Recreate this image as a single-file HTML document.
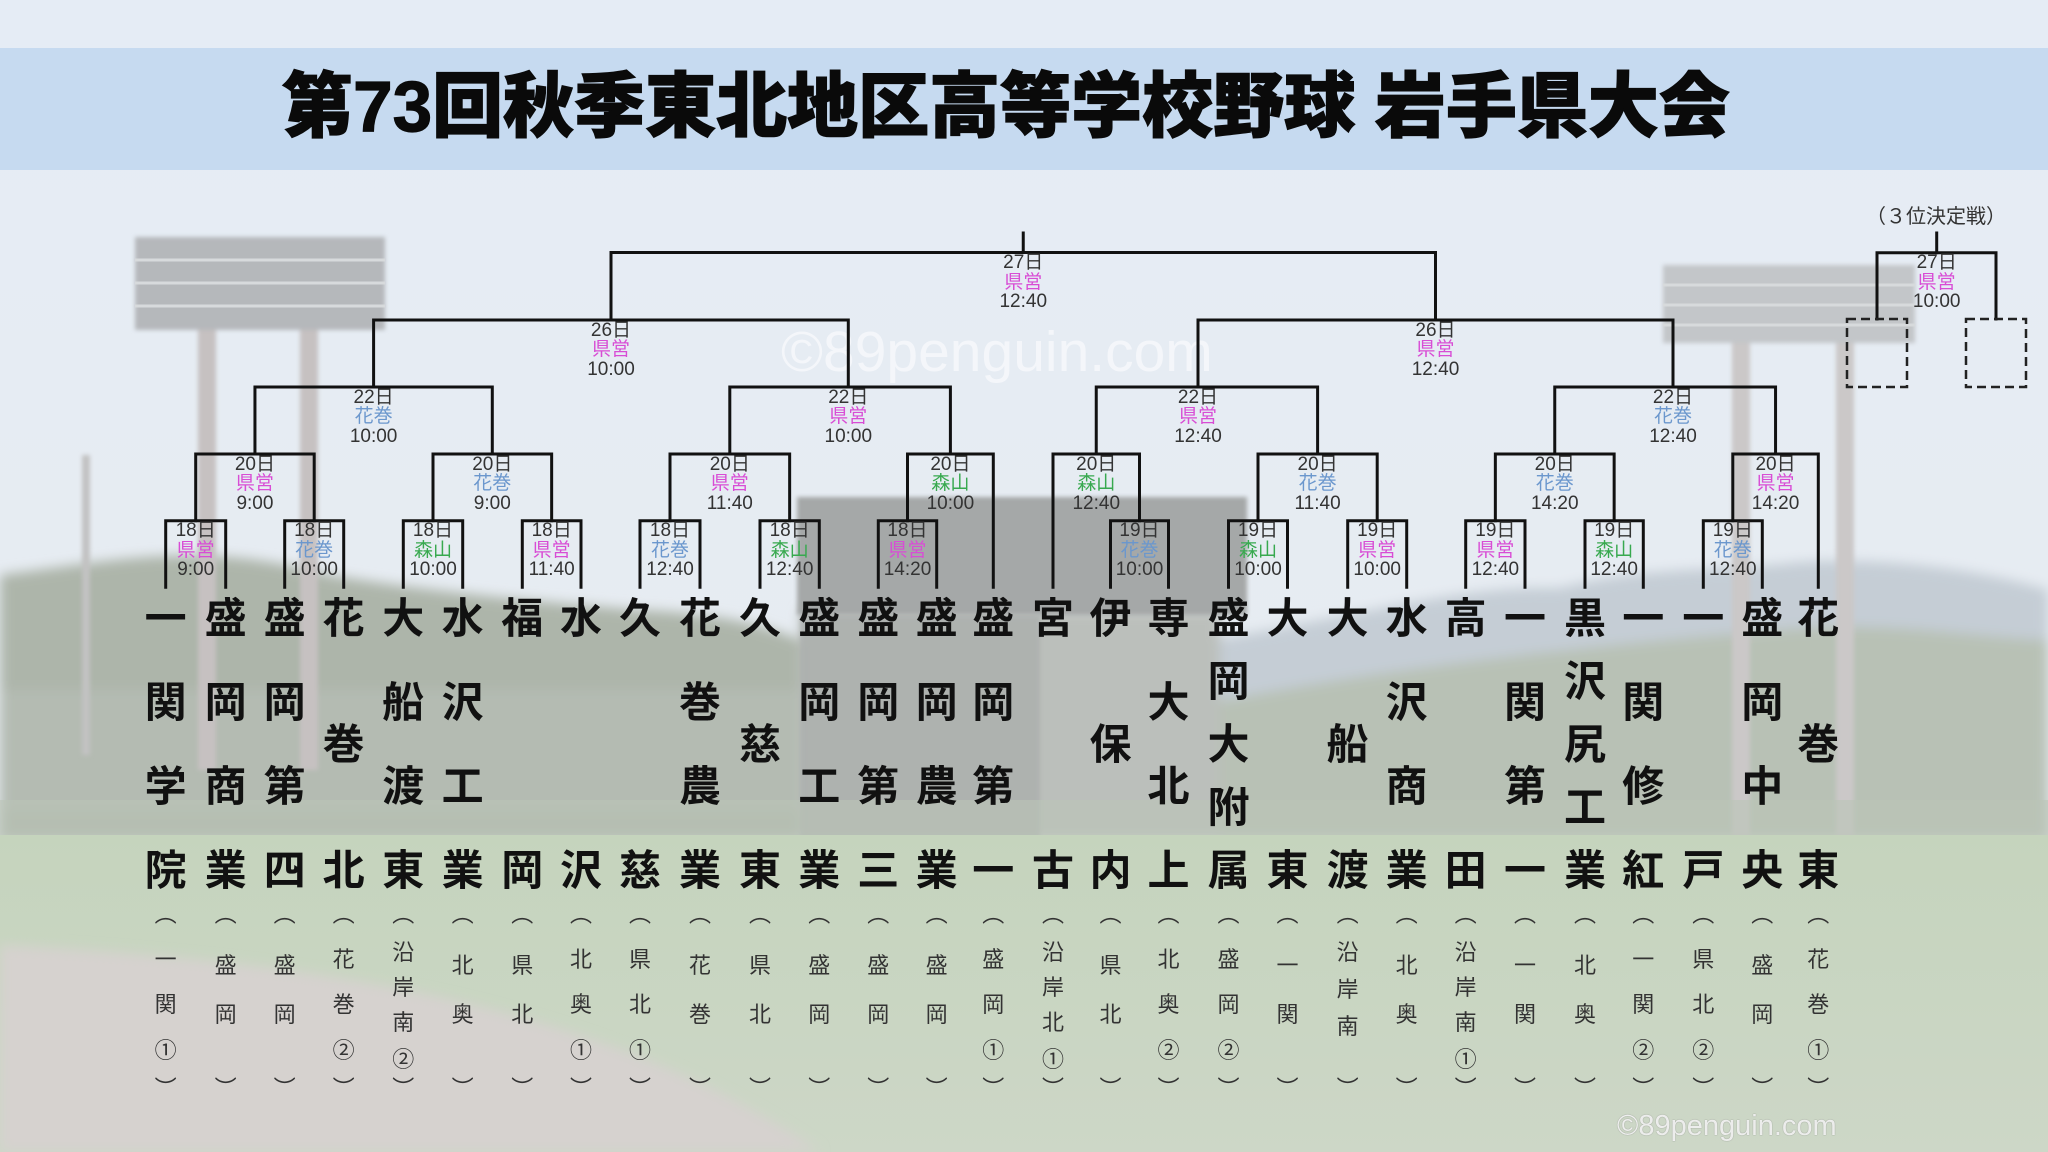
<!DOCTYPE html>
<html lang="ja">
<head>
<meta charset="utf-8">
<style>
html,body{margin:0;padding:0;}
body{width:2048px;height:1152px;position:relative;overflow:hidden;background:#e8edf2;font-family:"Liberation Sans","Noto Sans CJK JP",sans-serif;}
#bg{position:absolute;left:0;top:0;}
#lines{position:absolute;left:0;top:0;}
.title{position:absolute;left:0;top:72px;width:2012px;text-align:center;font-size:71px;line-height:72px;font-weight:900;color:#0a0a0a;font-family:"Liberation Sans","Noto Sans CJK JP",sans-serif;-webkit-text-stroke:1.2px #0a0a0a;white-space:nowrap;}
.t{position:absolute;top:597.7px;height:294.3px;width:50px;display:flex;flex-direction:column;justify-content:space-between;align-items:center;}
.t span{display:block;font-size:42px;line-height:42px;height:42px;font-weight:700;color:#111;font-family:"Liberation Sans","Noto Sans CJK JP",sans-serif;white-space:nowrap;}
.r{position:absolute;top:0;width:40px;height:1152px;}
.r span{position:absolute;left:0;width:40px;text-align:center;font-size:22px;line-height:24px;height:24px;color:#333;font-family:"Liberation Sans","Noto Sans CJK JP",sans-serif;}
.r .po{top:903px;}
.r .pc{top:1077px;}
.r2 span:nth-child(2){top:954px;} .r2 span:nth-child(3){top:1003px;}
.r3 span:nth-child(2){top:948px;} .r3 span:nth-child(3){top:993px;} .r3 span:nth-child(4){top:1039px;}
.r4 span:nth-child(2){top:940.7px;} .r4 span:nth-child(3){top:976.3px;} .r4 span:nth-child(4){top:1011.3px;} .r4 span:nth-child(5){top:1048px;}
.rs span:nth-child(2){top:940.7px;} .rs span:nth-child(3){top:978px;} .rs span:nth-child(4){top:1014.7px;}
.l{position:absolute;width:100px;text-align:center;font-size:19px;line-height:19.5px;color:#333;white-space:nowrap;}
.l .k{color:#d84dd5;}
.l .h{color:#6b97cd;}
.l .m{color:#38a94f;}
.wm{position:absolute;left:781px;top:324px;font-size:57px;line-height:57px;color:rgba(255,255,255,0.55);white-space:nowrap;font-family:"Liberation Sans",sans-serif;}
.wm2{position:absolute;left:1617px;top:1110px;font-size:29px;line-height:32px;color:rgba(255,255,255,0.85);text-shadow:0 0 1px rgba(90,90,90,0.7);white-space:nowrap;font-family:"Liberation Sans",sans-serif;}
.third{position:absolute;left:1836px;top:205px;width:200px;text-align:center;font-size:20px;line-height:24px;color:#333;white-space:nowrap;}
</style>
</head>
<body>
<svg id="bg" width="2048" height="1152" viewBox="0 0 2048 1152">
<defs>
<linearGradient id="sky" x1="0" y1="0" x2="0" y2="1">
<stop offset="0" stop-color="#e5ecf5"/>
<stop offset="1" stop-color="#e8ecef"/>
</linearGradient>
<linearGradient id="fld" x1="0" y1="0" x2="0" y2="1">
<stop offset="0" stop-color="#c5d4bd"/>
<stop offset="1" stop-color="#cdd7c7"/>
</linearGradient>
<filter id="bl" x="-5%" y="-5%" width="110%" height="110%"><feGaussianBlur stdDeviation="6"/></filter>
<filter id="bl2"><feGaussianBlur stdDeviation="2"/></filter>
</defs>
<rect x="0" y="0" width="2048" height="1152" fill="url(#sky)"/>
<g filter="url(#bl)">
<path d="M1150,650 C1350,620 1450,585 1560,588 C1650,565 1720,572 1800,562 C1900,556 2000,575 2048,590 L2048,840 L1150,840 Z" fill="#c5cdd5"/>
<path d="M1200,705 C1400,665 1600,645 1800,628 C1900,622 2000,640 2048,640 L2048,840 L1200,840 Z" fill="#b8c1b5"/>
<path d="M0,575 C120,560 200,540 330,575 C420,590 520,600 640,610 C760,615 800,640 820,650 L820,840 L0,840 Z" fill="#adb5aa"/>
<rect x="800" y="610" width="420" height="230" fill="#bbbfbb"/>
<rect x="0" y="690" width="800" height="120" fill="#b9c0b7" opacity="0.6"/>
</g>
<rect x="797" y="497" width="450" height="118" fill="#a5a8a8" filter="url(#bl2)"/>
<rect x="800" y="615" width="240" height="225" fill="#abafad" opacity="0.8" filter="url(#bl2)"/>
<g filter="url(#bl2)">
<rect x="198" y="330" width="18" height="440" fill="#c6c1c1"/>
<rect x="300" y="330" width="18" height="440" fill="#c6c1c1"/>
<rect x="135" y="237" width="250" height="93" fill="#b5b8bb"/>
<rect x="1732" y="343" width="18" height="497" fill="#cbc8c8"/>
<rect x="1836" y="343" width="18" height="497" fill="#cbc8c8"/>
<rect x="1663" y="265" width="252" height="78" fill="#c3c6c9"/>
<rect x="82" y="455" width="8" height="300" fill="#c2c2c2"/>
</g>
<g stroke="#d7dadc" stroke-width="3">
<line x1="135" y1="260" x2="385" y2="260"/><line x1="135" y1="283" x2="385" y2="283"/><line x1="135" y1="306" x2="385" y2="306"/>
<line x1="1663" y1="285" x2="1915" y2="285"/><line x1="1663" y1="305" x2="1915" y2="305"/><line x1="1663" y1="325" x2="1915" y2="325"/>
</g>
<rect x="0" y="800" width="2048" height="40" fill="#bac4b7" opacity="0.6"/>
<rect x="0" y="835" width="2048" height="317" fill="url(#fld)"/>
<path d="M0,945 C300,960 600,1000 820,1152 L0,1152 Z" fill="#d6d2cf" filter="url(#bl)"/>
<rect x="0" y="48" width="2048" height="122" fill="#c6daf0"/>
</svg>

<div class="title">第73回秋季東北地区高等学校野球 岩手県大会</div>
<div class="wm">©89penguin.com</div>

<svg id="lines" width="2048" height="1152" viewBox="0 0 2048 1152">
<g fill="none" stroke="#111" stroke-width="3" stroke-linecap="square" stroke-linejoin="miter">
<path d="M165.7 587.3V520.7H225.7V587.3"/>
<path d="M284.7 587.3V520.7H343.7V587.3"/>
<path d="M403.3 587.3V520.7H462.7V587.3"/>
<path d="M522.3 587.3V520.7H581V587.3"/>
<path d="M640 587.3V520.7H700V587.3"/>
<path d="M760 587.3V520.7H819.3V587.3"/>
<path d="M878.3 587.3V520.7H936.7V587.3"/>
<path d="M1110.5 587.3V520.7H1168.5V587.3"/>
<path d="M1228.5 587.3V520.7H1287.5V587.3"/>
<path d="M1347.7 587.3V520.7H1406.7V587.3"/>
<path d="M1465.7 587.3V520.7H1525V587.3"/>
<path d="M1585 587.3V520.7H1643.3V587.3"/>
<path d="M1703.3 587.3V520.7H1762.3V587.3"/>
<path d="M195.7 520.7V454H314.2V520.7"/>
<path d="M433 520.7V454H551.65V520.7"/>
<path d="M670 520.7V454H789.65V520.7"/>
<path d="M907.5 520.7V454H993.3V587.3"/>
<path d="M1053 587.3V454H1139.5V520.7"/>
<path d="M1258 520.7V454H1377.2V520.7"/>
<path d="M1495.35 520.7V454H1614.15V520.7"/>
<path d="M1732.8 520.7V454H1818.3V587.3"/>
<path d="M254.95 454V387H492.3V454"/>
<path d="M729.8 454V387H950.4V454"/>
<path d="M1096.25 454V387H1317.6V454"/>
<path d="M1554.75 454V387H1775.55V454"/>
<path d="M373.6 387V320H848.3V387"/>
<path d="M1198 387V320H1673V387"/>
<path d="M611 320V252.5H1435.5V320"/>
<path d="M1023.25 252.5V233"/>
<path d="M1936.7 252.7V233"/>
<path d="M1877 319V252.7H1996V319"/>
</g>
<g fill="none" stroke="#222" stroke-width="2.5" stroke-dasharray="9 5">
<rect x="1847" y="319" width="60" height="68"/>
<rect x="1966" y="319" width="60" height="68"/>
</g>
</svg>

<div class="third">（３位決定戦）</div>

<div class="l" style="left:1886.7px;top:253.2px">27日<br><span class="k">県営</span><br>10:00</div>
<div class="l" style="left:973.25px;top:253px">27日<br><span class="k">県営</span><br>12:40</div>
<div class="l" style="left:561px;top:320.5px">26日<br><span class="k">県営</span><br>10:00</div>
<div class="l" style="left:1385.5px;top:320.5px">26日<br><span class="k">県営</span><br>12:40</div>
<div class="l" style="left:323.6px;top:387.5px">22日<br><span class="h">花巻</span><br>10:00</div>
<div class="l" style="left:798.3px;top:387.5px">22日<br><span class="k">県営</span><br>10:00</div>
<div class="l" style="left:1148px;top:387.5px">22日<br><span class="k">県営</span><br>12:40</div>
<div class="l" style="left:1623px;top:387.5px">22日<br><span class="h">花巻</span><br>12:40</div>
<div class="l" style="left:204.95px;top:454.5px">20日<br><span class="k">県営</span><br>9:00</div>
<div class="l" style="left:442.3px;top:454.5px">20日<br><span class="h">花巻</span><br>9:00</div>
<div class="l" style="left:679.8px;top:454.5px">20日<br><span class="k">県営</span><br>11:40</div>
<div class="l" style="left:900.4px;top:454.5px">20日<br><span class="m">森山</span><br>10:00</div>
<div class="l" style="left:1046.25px;top:454.5px">20日<br><span class="m">森山</span><br>12:40</div>
<div class="l" style="left:1267.6px;top:454.5px">20日<br><span class="h">花巻</span><br>11:40</div>
<div class="l" style="left:1504.75px;top:454.5px">20日<br><span class="h">花巻</span><br>14:20</div>
<div class="l" style="left:1725.55px;top:454.5px">20日<br><span class="k">県営</span><br>14:20</div>
<div class="l" style="left:145.7px;top:521.2px">18日<br><span class="k">県営</span><br>9:00</div>
<div class="l" style="left:264.2px;top:521.2px">18日<br><span class="h">花巻</span><br>10:00</div>
<div class="l" style="left:383px;top:521.2px">18日<br><span class="m">森山</span><br>10:00</div>
<div class="l" style="left:501.65px;top:521.2px">18日<br><span class="k">県営</span><br>11:40</div>
<div class="l" style="left:620px;top:521.2px">18日<br><span class="h">花巻</span><br>12:40</div>
<div class="l" style="left:739.65px;top:521.2px">18日<br><span class="m">森山</span><br>12:40</div>
<div class="l" style="left:857.5px;top:521.2px">18日<br><span class="k">県営</span><br>14:20</div>
<div class="l" style="left:1089.5px;top:521.2px">19日<br><span class="h">花巻</span><br>10:00</div>
<div class="l" style="left:1208px;top:521.2px">19日<br><span class="m">森山</span><br>10:00</div>
<div class="l" style="left:1327.2px;top:521.2px">19日<br><span class="k">県営</span><br>10:00</div>
<div class="l" style="left:1445.35px;top:521.2px">19日<br><span class="k">県営</span><br>12:40</div>
<div class="l" style="left:1564.15px;top:521.2px">19日<br><span class="m">森山</span><br>12:40</div>
<div class="l" style="left:1682.8px;top:521.2px">19日<br><span class="h">花巻</span><br>12:40</div>

<div class="t" style="left:140.7px"><span>一</span><span>関</span><span>学</span><span>院</span></div>
<div class="t" style="left:200.7px"><span>盛</span><span>岡</span><span>商</span><span>業</span></div>
<div class="t" style="left:259.7px"><span>盛</span><span>岡</span><span>第</span><span>四</span></div>
<div class="t" style="left:318.7px"><span>花</span><span>巻</span><span>北</span></div>
<div class="t" style="left:378.3px"><span>大</span><span>船</span><span>渡</span><span>東</span></div>
<div class="t" style="left:437.7px"><span>水</span><span>沢</span><span>工</span><span>業</span></div>
<div class="t" style="left:497.3px"><span>福</span><span>岡</span></div>
<div class="t" style="left:556px"><span>水</span><span>沢</span></div>
<div class="t" style="left:615px"><span>久</span><span>慈</span></div>
<div class="t" style="left:675px"><span>花</span><span>巻</span><span>農</span><span>業</span></div>
<div class="t" style="left:735px"><span>久</span><span>慈</span><span>東</span></div>
<div class="t" style="left:794.3px"><span>盛</span><span>岡</span><span>工</span><span>業</span></div>
<div class="t" style="left:853.3px"><span>盛</span><span>岡</span><span>第</span><span>三</span></div>
<div class="t" style="left:911.7px"><span>盛</span><span>岡</span><span>農</span><span>業</span></div>
<div class="t" style="left:968.3px"><span>盛</span><span>岡</span><span>第</span><span>一</span></div>
<div class="t" style="left:1028px"><span>宮</span><span>古</span></div>
<div class="t" style="left:1085.5px"><span>伊</span><span>保</span><span>内</span></div>
<div class="t" style="left:1143.5px"><span>専</span><span>大</span><span>北</span><span>上</span></div>
<div class="t" style="left:1203.5px"><span>盛</span><span>岡</span><span>大</span><span>附</span><span>属</span></div>
<div class="t" style="left:1262.5px"><span>大</span><span>東</span></div>
<div class="t" style="left:1322.7px"><span>大</span><span>船</span><span>渡</span></div>
<div class="t" style="left:1381.7px"><span>水</span><span>沢</span><span>商</span><span>業</span></div>
<div class="t" style="left:1440.7px"><span>高</span><span>田</span></div>
<div class="t" style="left:1500px"><span>一</span><span>関</span><span>第</span><span>一</span></div>
<div class="t" style="left:1560px"><span>黒</span><span>沢</span><span>尻</span><span>工</span><span>業</span></div>
<div class="t" style="left:1618.3px"><span>一</span><span>関</span><span>修</span><span>紅</span></div>
<div class="t" style="left:1678.3px"><span>一</span><span>戸</span></div>
<div class="t" style="left:1737.3px"><span>盛</span><span>岡</span><span>中</span><span>央</span></div>
<div class="t" style="left:1793.3px"><span>花</span><span>巻</span><span>東</span></div>

<div class="r r3" style="left:145.7px"><span class="po">︵</span><span>一</span><span>関</span><span>①</span><span class="pc">︶</span></div>
<div class="r r2" style="left:205.7px"><span class="po">︵</span><span>盛</span><span>岡</span><span class="pc">︶</span></div>
<div class="r r2" style="left:264.7px"><span class="po">︵</span><span>盛</span><span>岡</span><span class="pc">︶</span></div>
<div class="r r3" style="left:323.7px"><span class="po">︵</span><span>花</span><span>巻</span><span>②</span><span class="pc">︶</span></div>
<div class="r r4" style="left:383.3px"><span class="po">︵</span><span>沿</span><span>岸</span><span>南</span><span>②</span><span class="pc">︶</span></div>
<div class="r r2" style="left:442.7px"><span class="po">︵</span><span>北</span><span>奥</span><span class="pc">︶</span></div>
<div class="r r2" style="left:502.3px"><span class="po">︵</span><span>県</span><span>北</span><span class="pc">︶</span></div>
<div class="r r3" style="left:561px"><span class="po">︵</span><span>北</span><span>奥</span><span>①</span><span class="pc">︶</span></div>
<div class="r r3" style="left:620px"><span class="po">︵</span><span>県</span><span>北</span><span>①</span><span class="pc">︶</span></div>
<div class="r r2" style="left:680px"><span class="po">︵</span><span>花</span><span>巻</span><span class="pc">︶</span></div>
<div class="r r2" style="left:740px"><span class="po">︵</span><span>県</span><span>北</span><span class="pc">︶</span></div>
<div class="r r2" style="left:799.3px"><span class="po">︵</span><span>盛</span><span>岡</span><span class="pc">︶</span></div>
<div class="r r2" style="left:858.3px"><span class="po">︵</span><span>盛</span><span>岡</span><span class="pc">︶</span></div>
<div class="r r2" style="left:916.7px"><span class="po">︵</span><span>盛</span><span>岡</span><span class="pc">︶</span></div>
<div class="r r3" style="left:973.3px"><span class="po">︵</span><span>盛</span><span>岡</span><span>①</span><span class="pc">︶</span></div>
<div class="r r4" style="left:1033px"><span class="po">︵</span><span>沿</span><span>岸</span><span>北</span><span>①</span><span class="pc">︶</span></div>
<div class="r r2" style="left:1090.5px"><span class="po">︵</span><span>県</span><span>北</span><span class="pc">︶</span></div>
<div class="r r3" style="left:1148.5px"><span class="po">︵</span><span>北</span><span>奥</span><span>②</span><span class="pc">︶</span></div>
<div class="r r3" style="left:1208.5px"><span class="po">︵</span><span>盛</span><span>岡</span><span>②</span><span class="pc">︶</span></div>
<div class="r r2" style="left:1267.5px"><span class="po">︵</span><span>一</span><span>関</span><span class="pc">︶</span></div>
<div class="r rs" style="left:1327.7px"><span class="po">︵</span><span>沿</span><span>岸</span><span>南</span><span class="pc">︶</span></div>
<div class="r r2" style="left:1386.7px"><span class="po">︵</span><span>北</span><span>奥</span><span class="pc">︶</span></div>
<div class="r r4" style="left:1445.7px"><span class="po">︵</span><span>沿</span><span>岸</span><span>南</span><span>①</span><span class="pc">︶</span></div>
<div class="r r2" style="left:1505px"><span class="po">︵</span><span>一</span><span>関</span><span class="pc">︶</span></div>
<div class="r r2" style="left:1565px"><span class="po">︵</span><span>北</span><span>奥</span><span class="pc">︶</span></div>
<div class="r r3" style="left:1623.3px"><span class="po">︵</span><span>一</span><span>関</span><span>②</span><span class="pc">︶</span></div>
<div class="r r3" style="left:1683.3px"><span class="po">︵</span><span>県</span><span>北</span><span>②</span><span class="pc">︶</span></div>
<div class="r r2" style="left:1742.3px"><span class="po">︵</span><span>盛</span><span>岡</span><span class="pc">︶</span></div>
<div class="r r3" style="left:1798.3px"><span class="po">︵</span><span>花</span><span>巻</span><span>①</span><span class="pc">︶</span></div>

<div class="wm2">©89penguin.com</div>
</body>
</html>
